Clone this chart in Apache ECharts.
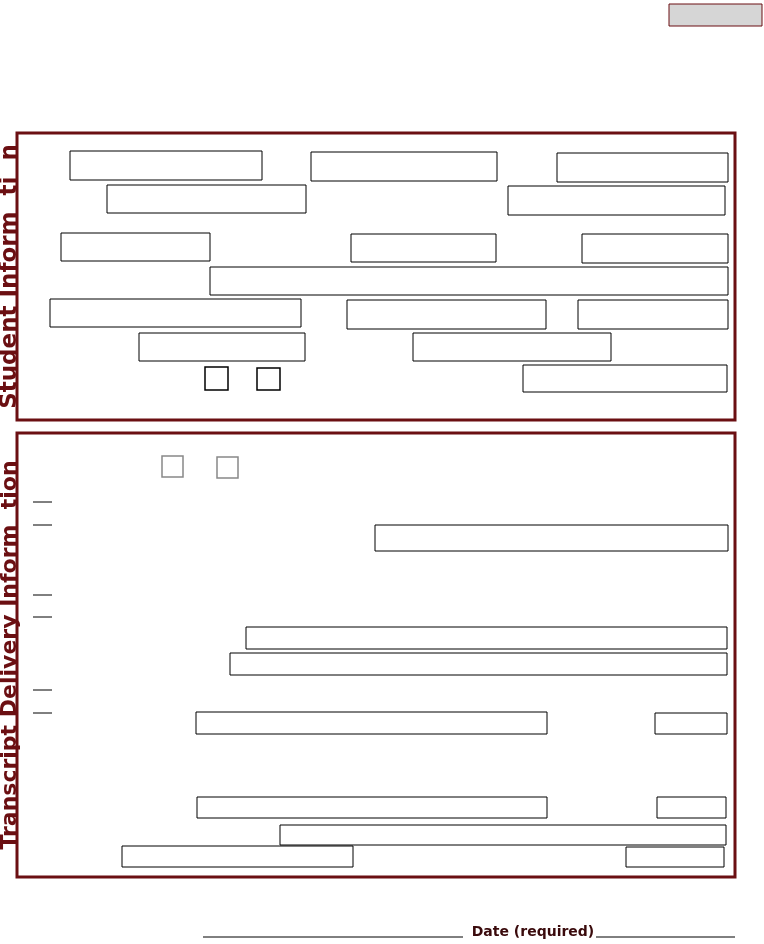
<!DOCTYPE html>
<html><head><meta charset="utf-8">
<script src="https://cdn.jsdelivr.net/npm/echarts@6/dist/echarts.min.js"></script>
<style>html,body{margin:0;background:#fff}#c{width:764px;height:944px}</style>
</head><body><div id="c"></div>
<script>
// form layout: input boxes [x1, y1, x2, y2]
const boxes = [
  [70,151,262,180],[311,152,497,181],[557,153,728,182],
  [107,185,306,213],[508,186,725,215],
  [61,233,210,261],[351,234,496,262],[582,234,728,263],
  [210,267,728,295],
  [50,299,301,327],[347,300,546,329],[578,300,728,329],
  [139,333,305,361],[413,333,611,361],
  [523,365,727,392],
  [375,525,728,551],[246,627,727,649],[230,653,727,675],
  [196,712,547,734],[655,713,727,734],
  [197,797,547,818],[657,797,726,818],
  [280,825,726,845],[122,846,353,867],[626,847,724,867]
];
const checks = [[205,367,228,390],[257,368,280,390],[162,456,183,477],[217,457,238,478]];
const ticks = [502,525,595,617,690,713];
const sections = [
  {title: 'Student Inform  ti  n', y1: 133, y2: 420, size: 23},
  {title: 'Transcript Delivery Inform  tion', y1: 433, y2: 877, size: 22}
];
const maroon = '#6b0f12';
const g = [];
sections.forEach(s => {
  g.push({type:'rect', shape:{x:17,y:s.y1,width:718,height:s.y2-s.y1}, style:{fill:'none',stroke:maroon,lineWidth:3}});
  g.push({type:'text', x:10, y:(s.y1+s.y2)/2, rotation:Math.PI/2,
    style:{text:s.title, fill:maroon, font:'bold ' + s.size + 'px "DejaVu Sans", Arial', align:'center', verticalAlign:'middle'}});
});
boxes.forEach(b => g.push({type:'rect', shape:{x:b[0],y:b[1],width:b[2]-b[0],height:b[3]-b[1]}, style:{fill:'none',stroke:'#000',lineWidth:1}}));
checks.forEach((b,i) => g.push({type:'rect', shape:{x:b[0],y:b[1],width:b[2]-b[0],height:b[3]-b[1]}, style:{fill:'#fff',stroke:i<2?'#000':'#888',lineWidth:1.5}}));
ticks.forEach(y => g.push({type:'line', shape:{x1:33,y1:y,x2:52,y2:y}, style:{stroke:'#000',lineWidth:1}}));
g.push({type:'rect', shape:{x:669,y:4,width:93,height:22}, style:{fill:'#d6d6d6',stroke:maroon,lineWidth:1}});
g.push({type:'line', shape:{x1:203,y1:937,x2:463,y2:937}, style:{stroke:'#000',lineWidth:1}});
g.push({type:'line', shape:{x1:596,y1:937,x2:735,y2:937}, style:{stroke:'#000',lineWidth:1}});
g.push({type:'text', x:533, y:932, style:{text:'Date (required)', fill:'#3a0a0c', font:'bold 14px "DejaVu Sans", Arial', align:'center', verticalAlign:'middle'}});
const chart = echarts.init(document.getElementById('c'));
chart.setOption({animation:false, graphic:{elements:g}});
</script></body></html>
